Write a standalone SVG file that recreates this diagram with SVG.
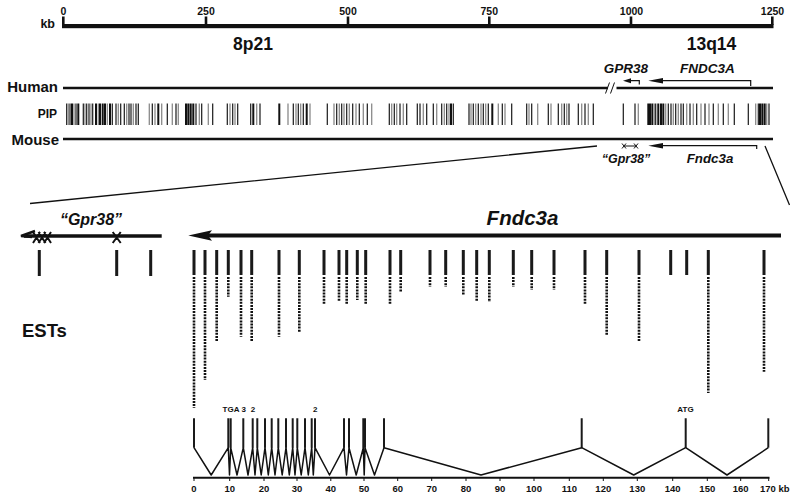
<svg xmlns="http://www.w3.org/2000/svg" width="800" height="499" viewBox="0 0 800 499">
<style>
.t{font-family:"Liberation Sans",Arial,sans-serif;font-weight:bold;fill:#111}
.i{font-style:italic}
.m{text-anchor:middle}
.e{text-anchor:end}
.ln{stroke:#111;fill:none}
.pk{stroke:#111;stroke-width:2;fill:none}
.pt{stroke:#1a1a1a;stroke-width:1.2;fill:none}
.pg{stroke:#8a8a8a;stroke-width:1.3;fill:none}
.es{stroke:#1a1a1a;stroke-width:3;fill:none}
.ed{stroke:#111;stroke-width:2.6;stroke-dasharray:2 1.1;fill:none}
.ex{stroke:#1a1a1a;stroke-width:2;fill:none}
</style>
<rect width="800" height="499" fill="#fff"/>

<g id="scale">
<rect x="62" y="24" width="711.5" height="4.2" fill="#111"/>
<path class="ln" stroke-width="2.6" d="M63.3 16.5V25M206 16.5V25M348 16.5V25M489.3 16.5V25M631 16.5V25M772.3 16.5V25"/>
<text class="t e" x="55" y="27.5" font-size="12.5">kb</text>
<g class="t m" font-size="10.5">
<text x="63.5" y="15">0</text><text x="206" y="15">250</text><text x="348" y="15">500</text>
<text x="489.3" y="15">750</text><text x="631.5" y="15">1000</text><text x="772.5" y="15">1250</text>
</g>
<text class="t m" x="253" y="50" font-size="17.5">8p21</text>
<text class="t m" x="711.5" y="50" font-size="17.5">13q14</text>
</g>

<g id="human">
<text class="t e" x="58" y="92" font-size="15">Human</text>
<path class="ln" stroke-width="2.5" d="M63 88H608M616.5 88H773"/>
<path class="ln" stroke-width="1" d="M605.5 93.5L609.5 82.5M610.5 93.5L614.5 82.5"/>
<text class="t i m" x="626" y="73" font-size="13.5">GPR38</text>
<text class="t i m" x="707.5" y="73" font-size="13.5">FNDC3A</text>
<path class="ln" stroke-width="1.2" d="M639.3 84.5V80.7H630"/>
<polygon points="623,80.7 631,78.2 631,83.2" fill="#111"/>
<path class="ln" stroke-width="1.2" d="M750.7 86V80.7H660"/>
<polygon points="648.3,80.7 663,78 663,83.4" fill="#111"/>
</g>

<g id="pip">
<text class="t e" x="57" y="118" font-size="12">PIP</text>
<path class="pk" d="M72 103.5v21.5M78.3 103.5v21.5M96 103.5v21.5M100 103.5v21.5M102.7 103.5v21.5M105 103.5v21.5M110 103.5v21.5M158.3 103.5v21.5M186 103.5v21.5M188.3 103.5v21.5M190.7 103.5v21.5M193.3 103.5v21.5M253.3 103.5v21.5M279.3 103.5v21.5M306.7 103.5v21.5M451 103.5v21.5M648.3 103.5v21.5M650 103.5v21.5M652.3 103.5v21.5M658.3 103.5v21.5M661 103.5v21.5M663.3 103.5v21.5M760 103.5v21.5M762.3 103.5v21.5M764.7 103.5v21.5"/>
<path class="pk" stroke-width="4" d="M492.3 103.5v21.5"/>
<path class="pt" d="M66.7 103.5v21.5M70 103.5v21.5M76 103.5v21.5M83.3 103.5v21.5M86.7 103.5v21.5M89 103.5v21.5M92.7 103.5v21.5M112.3 103.5v21.5M116 103.5v21.5M120.7 103.5v21.5M124.3 103.5v21.5M129 103.5v21.5M131 103.5v21.5M136 103.5v21.5M138.3 103.5v21.5M152.3 103.5v21.5M167.3 103.5v21.5M176 103.5v21.5M196 103.5v21.5M201.7 103.5v21.5M212.7 103.5v21.5M227.3 103.5v21.5M232.7 103.5v21.5M237.7 103.5v21.5M250.7 103.5v21.5M260 103.5v21.5M293.3 103.5v21.5M298.3 103.5v21.5M303.3 103.5v21.5M327.3 103.5v21.5M336.7 103.5v21.5M341.7 103.5v21.5M346.7 103.5v21.5M352.7 103.5v21.5M359.3 103.5v21.5M367.3 103.5v21.5M389.3 103.5v21.5M394.3 103.5v21.5M400 103.5v21.5M406.7 103.5v21.5M417.3 103.5v21.5M420 103.5v21.5M426.7 103.5v21.5M433.3 103.5v21.5M441.7 103.5v21.5M446.7 103.5v21.5M453.3 103.5v21.5M469 103.5v21.5M473.3 103.5v21.5M478.3 103.5v21.5M483.3 103.5v21.5M488.3 103.5v21.5M502.3 103.5v21.5M511.7 103.5v21.5M526.7 103.5v21.5M531.7 103.5v21.5M548.3 103.5v21.5M558.3 103.5v21.5M564.3 103.5v21.5M569 103.5v21.5M578.3 103.5v21.5M585 103.5v21.5M593.3 103.5v21.5M623.3 103.5v21.5M635 103.5v21.5M655.7 103.5v21.5M668.3 103.5v21.5M671 103.5v21.5M675.7 103.5v21.5M681 103.5v21.5M683.3 103.5v21.5M690 103.5v21.5M696.7 103.5v21.5M705 103.5v21.5M713.3 103.5v21.5M723.3 103.5v21.5M734.3 103.5v21.5M748.3 103.5v21.5M758.3 103.5v21.5M769 103.5v21.5"/>
<path class="pg" d="M68.3 103.5v21.5M74 103.5v21.5M85 103.5v21.5M91 103.5v21.5M98.3 103.5v21.5M107.3 103.5v21.5M118.3 103.5v21.5M126.7 103.5v21.5M133.3 103.5v21.5M149.3 103.5v21.5M155 103.5v21.5M161.7 103.5v21.5M172.3 103.5v21.5M178.3 103.5v21.5M199.3 103.5v21.5M208.3 103.5v21.5M230 103.5v21.5M235 103.5v21.5M256.7 103.5v21.5M288 103.5v21.5M296 103.5v21.5M300.7 103.5v21.5M310 103.5v21.5M334 103.5v21.5M339.3 103.5v21.5M344 103.5v21.5M349.3 103.5v21.5M356 103.5v21.5M363.3 103.5v21.5M371.7 103.5v21.5M391.7 103.5v21.5M396.7 103.5v21.5M403.3 103.5v21.5M423.3 103.5v21.5M436.7 103.5v21.5M444.3 103.5v21.5M449 103.5v21.5M471 103.5v21.5M475.7 103.5v21.5M481 103.5v21.5M485.7 103.5v21.5M498.3 103.5v21.5M505 103.5v21.5M529 103.5v21.5M537.7 103.5v21.5M551 103.5v21.5M561.7 103.5v21.5M566.7 103.5v21.5M581.7 103.5v21.5M588.3 103.5v21.5M638.3 103.5v21.5M654.3 103.5v21.5M665.7 103.5v21.5M673.3 103.5v21.5M678.3 103.5v21.5M686.7 103.5v21.5M693.3 103.5v21.5M701 103.5v21.5M709 103.5v21.5M718.3 103.5v21.5M728.3 103.5v21.5M755.7 103.5v21.5M766.7 103.5v21.5"/>
</g>

<g id="mouse">
<text class="t e" x="59" y="144.5" font-size="15">Mouse</text>
<path class="ln" stroke-width="2.5" d="M63 139H773"/>
<path class="ln" stroke-width="1" d="M622 143.5L626 148.5M626 143.5L622 148.5M634 143.5L638 148.5M638 143.5L634 148.5M625 146H635"/>
<path class="ln" stroke-width="1.2" d="M756.7 149V145.7H660"/>
<polygon points="648.3,145.7 663,143 663,148.4" fill="#111"/>
<text class="t i m" x="626" y="163" font-size="12.5">“Gpr38”</text>
<text class="t i m" x="710" y="163" font-size="13.3">Fndc3a</text>
</g>

<g id="connectors">
<path class="ln" stroke-width="1.3" d="M597 146L30 203.5M765 146L789.5 205"/>
</g>

<g id="gpr38">
<text class="t i m" x="91" y="225" font-size="16">“Gpr38”</text>
<path class="ln" stroke-width="3.6" d="M24 236H161.7"/>
<path class="ln" stroke-width="2.4" d="M35 231L21 236L32 237"/>
<path class="ln" stroke-width="2" d="M33 232L40 243M40 232L33 243M38.5 232L45.5 243M45.5 232L38.5 243M44 232L51 243M51 232L44 243M112.7 232L120.7 243M120.7 232L112.7 243"/>
<path class="es" d="M39.3 250V276M116.7 250V276M150.7 250V276"/>
</g>

<g id="fndc3a">
<text class="t i m" x="522.5" y="225" font-size="20.5">Fndc3a</text>
<path class="ln" stroke-width="4" d="M206 235.5H781"/>
<polygon points="188.3,235.5 212,230.3 208,235.5 212,240.7" fill="#111"/>
</g>

<g id="ests">
<text class="t" x="22" y="337" font-size="18.5">ESTs</text>
<path class="es" d="M194 250V275M205 250V275M216.7 250V275M228.3 250V275M241 250V275M251.7 250V275M279 250V275M299.3 250V275M324 250V275M339 250V275M346.7 250V275M357.3 250V275M365.7 250V275M390 250V275M400.7 250V275M430 250V275M445.7 250V275M463.3 250V275M476.7 250V275M489.3 250V275M513.3 250V275M531.7 250V275M554 250V275M585 250V275M606.7 250V275M639 250V275M670.7 250V275M686.7 250V275M708.3 250V275M764 250V275"/>
<path class="ed" d="M194 277V408M205 277V380M216.7 277V341.7M228.3 277V296.7M241 277V336.7M251.7 277V341.7M279 277V336.7M299.3 277V331.7M324 277V305M339 277V301.7M346.7 277V305M357.3 277V300M365.7 277V305M390 277V305M400.7 277V291.7M430 277V286.7M445.7 277V286.7M463.3 277V295M476.7 277V301.7M489.3 277V302M513.3 277V286.7M531.7 277V290M554 277V290M585 277V305M606.7 277V335M639 277V341.7M708.3 277V393M764 277V371.7"/>
</g>

<g id="genestructure">
<g class="t m" font-size="8">
<text x="231" y="412">TGA</text><text x="243.8" y="412">3</text><text x="253" y="412">2</text>
<text x="315.3" y="412">2</text><text x="685.5" y="412">ATG</text>
</g>
<path class="ex" d="M194 418.3V447.7M228.3 418.3V447.7M230.7 418.3V447.7M243.3 418.3V447.7M252.7 418.3V447.7M257.3 418.3V447.7M265 418.3V447.7M271.7 418.3V447.7M278.3 418.3V447.7M286 418.3V447.7M292.7 418.3V447.7M297.3 418.3V447.7M305 418.3V447.7M311.7 418.3V447.7M315 418.3V447.7M344 418.3V447.7M349 418.3V447.7M363.3 418.3V447.7M365 418.3V447.7M384 418.3V447.7M581.7 418.3V447.7M685.7 418.3V447.7"/>
<path class="ex" stroke-width="3" d="M768.3 418.3V447.7"/>
<path class="ln" stroke-width="1.5" stroke-linejoin="round" d="M194 447.7L211.2 475L228.3 447.7L229.5 475L230.7 447.7L237 475L243.3 447.7L248 475L252.7 447.7L255 475L257.3 447.7L261.2 475L265 447.7L268.3 475L271.7 447.7L275 475L278.3 447.7L282.2 475L286 447.7L289.3 475L292.7 447.7L295 475L297.3 447.7L301.2 475L305 447.7L308.3 475L311.7 447.7L313.3 475L315 447.7L329.5 475L344 447.7L346.5 475L349 447.7L356.2 475L363.3 447.7L364.2 475L365 447.7L374.5 475L384 447.7L481 475L581.7 447.7L633.7 475L685.7 447.7L727 475L768.3 447.7"/>
<path class="ln" stroke-width="2" d="M193 477.7H769.5"/>
<path class="ln" stroke-width="1" d="M194 477.7v3.3M229.7 477.7v3.3M264 477.7v3.3M297 477.7v3.3M330.8 477.7v3.3M364 477.7v3.3M397.7 477.7v3.3M431.7 477.7v3.3M466 477.7v3.3M500 477.7v3.3M534 477.7v3.3M569.3 477.7v3.3M603.3 477.7v3.3M637.3 477.7v3.3M672.7 477.7v3.3M707.3 477.7v3.3M740.7 477.7v3.3M768.7 477.7v3.3"/>
<g class="t m" font-size="9.5">
<text x="194" y="491.5">0</text><text x="229.7" y="491.5">10</text><text x="264" y="491.5">20</text>
<text x="297" y="491.5">30</text><text x="330.8" y="491.5">40</text><text x="364" y="491.5">50</text>
<text x="397.7" y="491.5">60</text><text x="431.7" y="491.5">70</text><text x="466" y="491.5">80</text>
<text x="500" y="491.5">90</text><text x="534" y="491.5">100</text><text x="569.3" y="491.5">110</text>
<text x="603.3" y="491.5">120</text><text x="637.3" y="491.5">130</text><text x="672.7" y="491.5">140</text>
<text x="707.3" y="491.5">150</text><text x="740.7" y="491.5">160</text>
</g>
<text class="t" x="760" y="491.5" font-size="9.5">170 kb</text>
</g>
</svg>
